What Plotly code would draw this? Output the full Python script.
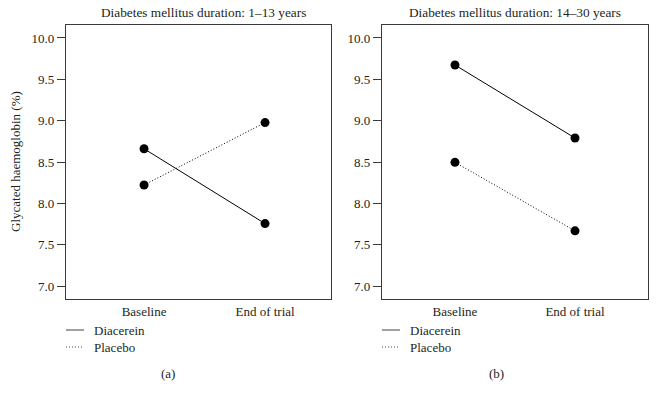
import plotly.graph_objects as go

W, H = 656, 400

timepoints = ["Baseline", "End of trial"]
panel_titles = ["Diabetes mellitus duration: 1\u201313 years",
                "Diabetes mellitus duration: 14\u201330 years"]
panel_labels = ["(a)", "(b)"]
series_names = ["Diacerein", "Placebo"]

diacerein_a = [8.66, 7.755]
placebo_a = [8.222, 8.977]
diacerein_b = [9.673, 8.79]
placebo_b = [8.496, 7.667]

y_ticks = [7.0, 7.5, 8.0, 8.5, 9.0, 9.5, 10.0]
y_title = "Glycated haemoglobin (%)"

FONT = "Liberation Serif, Times New Roman, serif"
AX = "#3a3a3a"
TXT = "#231f20"
DOT = "1px,2px"

def px(x):
    return x / W

def py(y):
    return 1 - y / H

fig = go.Figure()

panels = [
    (diacerein_a, placebo_a, "x", "y"),
    (diacerein_b, placebo_b, "x2", "y2"),
]
dashes = ["solid", DOT]
for dia, pla, xa, ya in panels:
    for vals, dash in zip([dia, pla], dashes):
        fig.add_trace(go.Scatter(
            x=timepoints, y=vals, xaxis=xa, yaxis=ya,
            mode="lines+markers",
            line=dict(color="black", width=1, dash=dash),
            marker=dict(color="black", size=9),
            showlegend=False, hoverinfo="skip"))

xdomains = [[px(66), px(331)], [px(382), px(648)]]
ydom = [py(299), py(24.5)]
xranges = [[-0.645, 1.545], [-0.608, 1.608]]

common_x = dict(showline=True, linecolor=AX, linewidth=1.2, mirror=True,
                showgrid=False, zeroline=False, ticks="",
                tickfont=dict(family=FONT, size=13, color=TXT),
                fixedrange=True)
common_y = dict(showline=True, linecolor=AX, linewidth=1.2, mirror=True,
                showgrid=False, zeroline=False, ticks="outside", ticklen=8,
                tickcolor=AX, tickwidth=1, tickvals=y_ticks,
                ticktext=[f"{v:.1f}" for v in y_ticks],
                tickfont=dict(family=FONT, size=13, color=TXT),
                range=[6.843, 10.163], fixedrange=True)

fig.update_layout(
    width=W, height=H,
    margin=dict(l=0, r=0, t=0, b=0),
    paper_bgcolor="white", plot_bgcolor="white",
    xaxis=dict(domain=xdomains[0], range=xranges[0], anchor="y", **common_x),
    yaxis=dict(domain=ydom, anchor="x", **common_y),
    xaxis2=dict(domain=xdomains[1], range=xranges[1], anchor="y2", **common_x),
    yaxis2=dict(domain=ydom, anchor="x2", **common_y),
)

annotations = []
shapes = []
title_cx = [203, 515]
label_cx = [168, 497]
leg_x0 = [66, 382]
for i in range(2):
    annotations.append(dict(text=panel_titles[i], x=px(title_cx[i]), y=py(13),
                            xref="paper", yref="paper", showarrow=False,
                            xanchor="center", yanchor="middle",
                            font=dict(family=FONT, size=13.3, color=TXT)))
    annotations.append(dict(text=panel_labels[i], x=px(label_cx[i]), y=py(373),
                            xref="paper", yref="paper", showarrow=False,
                            xanchor="center", yanchor="middle",
                            font=dict(family=FONT, size=13, color=TXT)))
    for j, (name, dash, yy) in enumerate(zip(series_names, dashes, [330, 347])):
        shapes.append(dict(type="line", xref="paper", yref="paper",
                           x0=px(leg_x0[i]), x1=px(leg_x0[i] + 18),
                           y0=py(yy), y1=py(yy),
                           line=dict(color="#444", width=1, dash=dash)))
        annotations.append(dict(text=name, x=px(leg_x0[i] + 26), y=py(yy),
                                xref="paper", yref="paper", showarrow=False,
                                xanchor="left", yanchor="middle",
                                font=dict(family=FONT, size=13, color=TXT)))

annotations.append(dict(text=y_title, x=px(15), y=py(162), xref="paper",
                        yref="paper", showarrow=False, textangle=-90,
                        xanchor="center", yanchor="middle",
                        font=dict(family=FONT, size=13, color=TXT)))

fig.update_layout(annotations=annotations, shapes=shapes)

fig.write_html("out.html", config={"displayModeBar": False},
               post_script="document.body.style.margin='0';document.body.style.overflow='hidden';")
